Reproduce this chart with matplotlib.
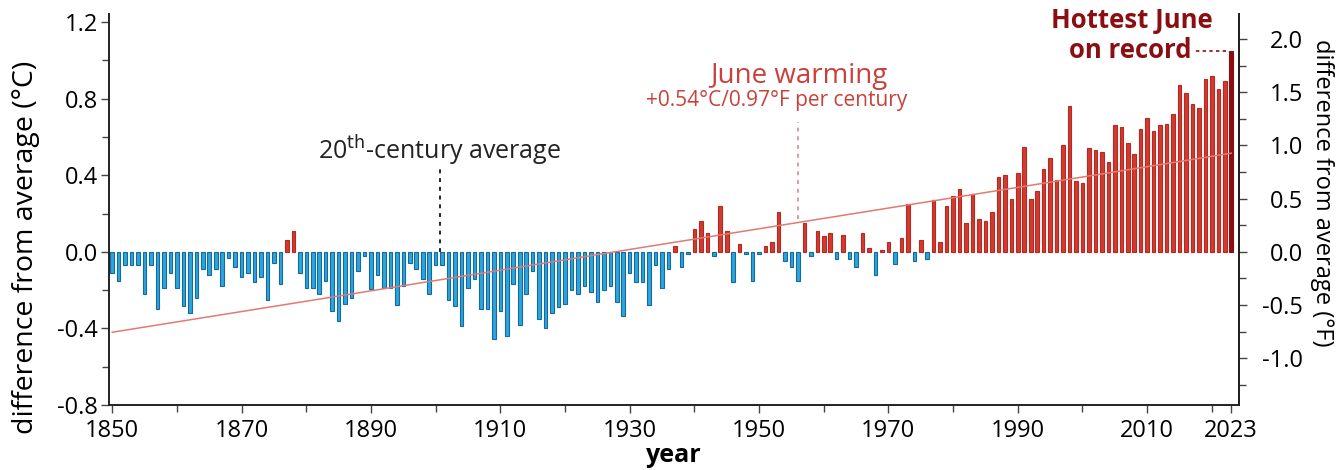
import numpy as np
import matplotlib.pyplot as plt
from matplotlib.ticker import MultipleLocator

plt.rcParams['font.family'] = ['Open Sans', 'DejaVu Sans']

years = list(range(1850, 2024))

# June global temperature anomaly, deg C vs 20th-century average
anomaly = [
    -0.11, -0.15, -0.07, -0.07, -0.07, -0.22, -0.07, -0.30, -0.19, -0.11,   # 1850s
    -0.19, -0.285, -0.32, -0.24, -0.09, -0.12, -0.09, -0.18, -0.03, -0.08,  # 1860s
    -0.13, -0.11, -0.16, -0.13, -0.25, -0.06, -0.17, 0.06, 0.11, -0.11,     # 1870s
    -0.19, -0.19, -0.22, -0.15, -0.31, -0.36, -0.27, -0.24, -0.10, -0.02,   # 1880s
    -0.195, -0.12, -0.19, -0.19, -0.28, -0.18, -0.06, -0.09, -0.14, -0.22,  # 1890s
    -0.07, -0.07, -0.25, -0.285, -0.39, -0.19, -0.14, -0.30, -0.30, -0.455, # 1900s
    -0.31, -0.44, -0.17, -0.38, -0.22, -0.10, -0.35, -0.40, -0.32, -0.29,   # 1910s
    -0.27, -0.20, -0.22, -0.18, -0.21, -0.26, -0.20, -0.18, -0.26, -0.335,  # 1920s
    -0.11, -0.16, -0.16, -0.28, -0.07, -0.19, -0.09, 0.03, -0.08, -0.01,    # 1930s
    0.12, 0.16, 0.10, -0.02, 0.24, 0.11, -0.16, 0.04, -0.01, -0.15,         # 1940s
    -0.01, 0.03, 0.05, 0.21, -0.05, -0.08, -0.15, 0.15, -0.02, 0.11,        # 1950s
    0.08, 0.10, -0.04, 0.09, -0.04, -0.08, 0.10, 0.02, -0.12, 0.01,         # 1960s
    0.05, -0.065, 0.07, 0.25, -0.05, 0.06, -0.04, 0.27, 0.05, 0.24,         # 1970s
    0.29, 0.33, 0.15, 0.30, 0.17, 0.16, 0.21, 0.39, 0.40, 0.275,            # 1980s
    0.41, 0.55, 0.275, 0.32, 0.43, 0.49, 0.375, 0.56, 0.76, 0.37,           # 1990s
    0.36, 0.54, 0.53, 0.52, 0.47, 0.66, 0.65, 0.57, 0.51, 0.64,             # 2000s
    0.70, 0.63, 0.66, 0.67, 0.72, 0.87, 0.83, 0.77, 0.75, 0.90,             # 2010s
    0.92, 0.85, 0.89, 1.05,                                                 # 2020s
]

trend_years = [1850, 2023]
trend_values = [-0.42, 0.515]

x_ticks = [1850, 1870, 1890, 1910, 1930, 1950, 1970, 1990, 2010, 2023]
f_ticks = [-1.0, -0.5, 0.0, 0.5, 1.0, 1.5, 2.0]

blue = "#2aa6dc"
blue_edge = "#17689c"
red = "#d23a30"
red_edge = "#b8281f"
record_red = "#8a0f12"
label_red = "#c9413a"

colors = []
edges = []
for y, v in zip(years, anomaly):
    if y == 2023:
        colors.append(record_red)
        edges.append(record_red)
    elif v >= 0:
        colors.append(red)
        edges.append(red_edge)
    else:
        colors.append(blue)
        edges.append(blue_edge)

fig = plt.figure(figsize=(13.36, 4.70), dpi=100)
ax = fig.add_axes([0.0816, 0.1383, 0.8458, 0.8317])

ax.bar(years, anomaly, width=0.55, color=colors, edgecolor=edges, linewidth=0.8, zorder=2)
ax.plot(trend_years, trend_values, color="#e27a72", linewidth=1.1, zorder=3)

ax.set_xlim(1849.5, 2024.2)
ax.set_ylim(-0.8, 1.2415)

ax.set_xticks(x_ticks)
ax.xaxis.set_minor_locator(MultipleLocator(10))
ax.yaxis.set_major_locator(MultipleLocator(0.4))
ax.yaxis.set_minor_locator(MultipleLocator(0.2))
ax.yaxis.set_major_formatter(plt.FormatStrFormatter("%.1f"))

for s in ["left", "bottom", "right"]:
    ax.spines[s].set_linewidth(1.4)
    ax.spines[s].set_color("#222222")
ax.spines["top"].set_visible(False)

ax.tick_params(axis="y", which="major", labelsize=17, length=6, width=1, color="#444444", pad=2)
ax.tick_params(axis="x", which="major", labelsize=17, length=6, width=1, color="#444444", pad=4)
ax.tick_params(axis="both", which="minor", length=5, width=1, color="#444444")
ax.set_xlabel("year", fontsize=18, fontweight="bold", labelpad=0)
ax.set_ylabel("difference from average (°C)", fontsize=20.5)
ax.yaxis.set_label_coords(-0.061, 0.404)

ax2 = ax.twinx()
ax2.set_ylim(-0.8 * 1.8, 1.2415 * 1.8)
ax2.yaxis.set_minor_locator(MultipleLocator(0.25))
ax2.yaxis.set_major_formatter(plt.FormatStrFormatter("%.1f"))
ax2.set_yticks(f_ticks)
ax2.tick_params(axis="y", which="major", labelsize=17, length=6, width=1, color="#444444", pad=40)
ax2.tick_params(axis="y", which="minor", length=5, width=1, color="#444444")
for lab in ax2.get_yticklabels():
    lab.set_horizontalalignment("right")
for s in ["top", "left", "bottom"]:
    ax2.spines[s].set_visible(False)
ax2.spines["right"].set_linewidth(1.4)
ax2.spines["right"].set_color("#222222")
ax2.set_ylabel("difference from average (°F)", fontsize=17, rotation=270, va="center")
ax2.yaxis.set_label_coords(1.0735, 0.542)

# annotations
ax.plot([1900.6, 1900.6], [0.0, 0.45], color="#222222", linestyle=(0, (2, 2.5)), linewidth=1.4, zorder=4)
ax.text(1900.6, 0.53, "20$^{\\mathrm{th}}$-century average", fontsize=18, ha="center", va="center", color="#222222")

ax.plot([1956.0, 1956.0], [0.17, 0.68], color="#e49a94", linestyle=(0, (2, 2.5)), linewidth=1.4, zorder=4)
ax.text(1956.2, 0.92, "June warming", fontsize=20, ha="center", va="center", color=label_red)
ax.text(1952.7, 0.79, "+0.54°C/0.97°F per century", fontsize=15, ha="center", va="center", color=label_red)

ax.text(2020.2, 1.21, "Hottest June", fontsize=18.5, fontweight="bold", ha="right", va="center", color=record_red)
ax.text(2016.9, 1.05, "on record", fontsize=18.5, fontweight="bold", ha="right", va="center", color=record_red)
ax.plot([2017.6, 2022.6], [1.05, 1.05], color=record_red, linestyle=(0, (2, 2)), linewidth=1.2, zorder=4)

plt.savefig("out.png", dpi=100)
